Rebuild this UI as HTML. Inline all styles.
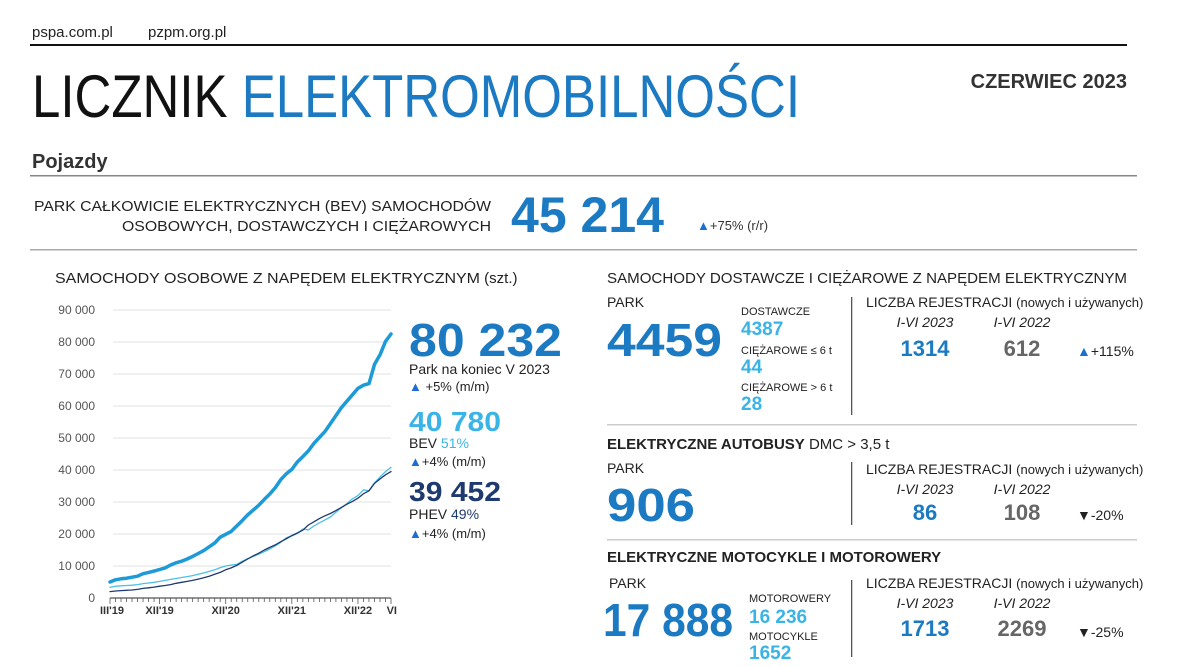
<!DOCTYPE html>
<html><head><meta charset="utf-8">
<style>
html,body{margin:0;padding:0;background:#fff;}
svg{display:block;font-family:"Liberation Sans","DejaVu Sans",sans-serif;}
</style></head>
<body>
<svg id="page" width="1184" height="667" viewBox="0 0 1184 667">
<g>
<text x="32" y="37" font-size="15" fill="#222">pspa.com.pl</text>
<text x="148" y="37" font-size="15" fill="#222">pzpm.org.pl</text>
<rect x="30" y="44" width="1097" height="2" fill="#111"/>
<text x="32" y="117" font-size="60" fill="#111" textLength="768" lengthAdjust="spacingAndGlyphs">LICZNIK <tspan fill="#1b7ac2">ELEKTROMOBILNOŚCI</tspan></text>
<text x="1127" y="88" font-size="20" font-weight="bold" fill="#333" text-anchor="end">CZERWIEC 2023</text>
<text x="32" y="168" font-size="20" font-weight="bold" fill="#333">Pojazdy</text>
<rect x="30" y="175" width="1107" height="1.5" fill="#888"/>
<text x="491" y="211" font-size="15" fill="#222" text-anchor="end" textLength="457" lengthAdjust="spacingAndGlyphs">PARK CAŁKOWICIE ELEKTRYCZNYCH (BEV) SAMOCHODÓW</text>
<text x="491" y="231" font-size="15" fill="#222" text-anchor="end" textLength="369" lengthAdjust="spacingAndGlyphs">OSOBOWYCH, DOSTAWCZYCH I CIĘŻAROWYCH</text>
<text x="511" y="232" font-size="50" font-weight="bold" fill="#1b7ac2" textLength="153" lengthAdjust="spacingAndGlyphs">45 214</text>
<text x="697" y="230" font-size="13" fill="#333"><tspan fill="#1b6fd0">▲</tspan>+75% (r/r)</text>
<rect x="30" y="249" width="1107" height="1.5" fill="#aaa"/>
</g>

<g>
<text x="55" y="283" font-size="15" fill="#222"><tspan textLength="425" lengthAdjust="spacingAndGlyphs">SAMOCHODY OSOBOWE Z NAPĘDEM ELEKTRYCZNYM</tspan><tspan> (szt.)</tspan></text>
<g id="chart"></g>
<text x="409" y="356" font-size="46" font-weight="bold" fill="#1b7ac2" textLength="153" lengthAdjust="spacingAndGlyphs">80 232</text>
<text x="409" y="374" font-size="14" fill="#222">Park na koniec V 2023</text>
<text x="409" y="391" font-size="13" fill="#222"><tspan fill="#1b6fd0">▲</tspan> +5% (m/m)</text>
<text x="409" y="431" font-size="28" font-weight="bold" fill="#3ab4e6" textLength="92" lengthAdjust="spacingAndGlyphs">40 780</text>
<text x="409" y="448" font-size="14" fill="#222">BEV <tspan fill="#3ab4e6">51%</tspan></text>
<text x="409" y="466" font-size="13" fill="#222"><tspan fill="#1b6fd0">▲</tspan>+4% (m/m)</text>
<text x="409" y="501" font-size="28" font-weight="bold" fill="#1f3a6e" textLength="92" lengthAdjust="spacingAndGlyphs">39 452</text>
<text x="409" y="519" font-size="14" fill="#222">PHEV <tspan fill="#1f3a6e">49%</tspan></text>
<text x="409" y="538" font-size="13" fill="#222"><tspan fill="#1b6fd0">▲</tspan>+4% (m/m)</text>
</g>

<g>
<text x="607" y="283" font-size="15" fill="#222" textLength="520" lengthAdjust="spacingAndGlyphs">SAMOCHODY DOSTAWCZE I CIĘŻAROWE Z NAPĘDEM ELEKTRYCZNYM</text>
<text x="607" y="307" font-size="14" fill="#222">PARK</text>
<text x="607" y="356" font-size="46" font-weight="bold" fill="#1b7ac2" textLength="115" lengthAdjust="spacingAndGlyphs">4459</text>
<text x="741" y="315" font-size="11" fill="#222">DOSTAWCZE</text>
<text x="741" y="335" font-size="19" font-weight="bold" fill="#3ab4e6">4387</text>
<text x="741" y="354" font-size="11" fill="#222">CIĘŻAROWE ≤ 6 t</text>
<text x="741" y="373" font-size="19" font-weight="bold" fill="#3ab4e6">44</text>
<text x="741" y="391" font-size="11" fill="#222">CIĘŻAROWE &gt; 6 t</text>
<text x="741" y="410" font-size="19" font-weight="bold" fill="#3ab4e6">28</text>
<rect x="851" y="297" width="1.3" height="118" fill="#555"/>
<text x="866" y="307" font-size="14" fill="#222">LICZBA REJESTRACJI <tspan font-size="13">(nowych i używanych)</tspan></text>
<text x="925" y="327" font-size="14" font-style="italic" fill="#222" text-anchor="middle">I-VI 2023</text>
<text x="1022" y="327" font-size="14" font-style="italic" fill="#222" text-anchor="middle">I-VI 2022</text>
<text x="925" y="356" font-size="22" font-weight="bold" fill="#1b7ac2" text-anchor="middle">1314</text>
<text x="1022" y="356" font-size="22" font-weight="bold" fill="#666" text-anchor="middle">612</text>
<text x="1077" y="356" font-size="14" fill="#222"><tspan fill="#1b6fd0">▲</tspan>+115%</text>
<rect x="607" y="424" width="530" height="1.5" fill="#ccc"/>
</g>

<g>
<text x="607" y="449" font-size="15" fill="#222"><tspan font-weight="bold">ELEKTRYCZNE AUTOBUSY</tspan> DMC &gt; 3,5 t</text>
<text x="607" y="473" font-size="14" fill="#222">PARK</text>
<text x="607" y="521" font-size="46" font-weight="bold" fill="#1b7ac2" textLength="88" lengthAdjust="spacingAndGlyphs">906</text>
<rect x="851" y="462" width="1.3" height="63" fill="#555"/>
<text x="866" y="474" font-size="14" fill="#222">LICZBA REJESTRACJI <tspan font-size="13">(nowych i używanych)</tspan></text>
<text x="925" y="494" font-size="14" font-style="italic" fill="#222" text-anchor="middle">I-VI 2023</text>
<text x="1022" y="494" font-size="14" font-style="italic" fill="#222" text-anchor="middle">I-VI 2022</text>
<text x="925" y="520" font-size="22" font-weight="bold" fill="#1b7ac2" text-anchor="middle">86</text>
<text x="1022" y="520" font-size="22" font-weight="bold" fill="#666" text-anchor="middle">108</text>
<text x="1077" y="520" font-size="14" fill="#222"><tspan fill="#222">▼</tspan>-20%</text>
<rect x="607" y="539" width="530" height="1.5" fill="#ccc"/>
</g>

<g>
<text x="607" y="562" font-size="15" font-weight="bold" fill="#222">ELEKTRYCZNE MOTOCYKLE I MOTOROWERY</text>
<text x="609" y="588" font-size="14" fill="#222">PARK</text>
<text x="603" y="636" font-size="46" font-weight="bold" fill="#1b7ac2" textLength="130" lengthAdjust="spacingAndGlyphs">17 888</text>
<text x="749" y="602" font-size="11" fill="#222">MOTOROWERY</text>
<text x="749" y="623" font-size="19" font-weight="bold" fill="#3ab4e6">16 236</text>
<text x="749" y="640" font-size="11" fill="#222">MOTOCYKLE</text>
<text x="749" y="659" font-size="19" font-weight="bold" fill="#3ab4e6">1652</text>
<rect x="851" y="580" width="1.3" height="77" fill="#555"/>
<text x="866" y="588" font-size="14" fill="#222">LICZBA REJESTRACJI <tspan font-size="13">(nowych i używanych)</tspan></text>
<text x="925" y="608" font-size="14" font-style="italic" fill="#222" text-anchor="middle">I-VI 2023</text>
<text x="1022" y="608" font-size="14" font-style="italic" fill="#222" text-anchor="middle">I-VI 2022</text>
<text x="925" y="636" font-size="22" font-weight="bold" fill="#1b7ac2" text-anchor="middle">1713</text>
<text x="1022" y="636" font-size="22" font-weight="bold" fill="#666" text-anchor="middle">2269</text>
<text x="1077" y="637" font-size="14" fill="#222">▼-25%</text>
</g>
</svg>
<script>
const totalPark = [5000,5700,6000,6200,6500,6800,7600,8000,8400,8900,9400,10300,11000,11500,12200,13000,13900,14800,16000,17200,19000,19900,20800,22500,24200,26000,27500,29000,30800,32500,34500,37000,38800,40200,42500,44200,46000,48300,50200,52000,54500,57000,59500,61500,63500,65500,66500,67000,73000,76000,80200,82500];
const bevPark = [3300,3700,3800,3900,4000,4200,4500,4700,4900,5200,5500,5800,6100,6400,6700,7000,7400,7800,8300,8800,9500,10000,10300,10500,11500,12300,13000,13700,14500,15300,16300,17400,18800,19400,20200,21500,21300,22500,23500,24400,25300,26800,28200,29500,31000,32000,33800,33500,36000,37800,39500,40800];
const phevPark = [2000,2200,2300,2400,2500,2700,3000,3200,3400,3700,3900,4200,4600,4900,5200,5500,5900,6300,6800,7400,8000,8800,9400,10200,11200,12200,13200,14000,15000,15800,16600,17600,18500,19500,20300,21200,22800,23800,24800,25700,26400,27300,28300,29300,30200,31200,32600,33500,35800,37200,38500,39500];
const yTicks = [0,10000,20000,30000,40000,50000,60000,70000,80000,90000];
const yTickLabels = ["0","10 000","20 000","30 000","40 000","50 000","60 000","70 000","80 000","90 000"];
const xLabelIdx = [0,9,21,33,45,51];
const xLabels = ["III'19","XII'19","XII'20","XII'21","XII'22","VI"];

const NS="http://www.w3.org/2000/svg";
const g=document.getElementById('chart');
const X0=110,X1=391,Y0=598,Y1=310,YMAX=90000;
const n=totalPark.length;
function xs(i){return X0+(X1-X0)*i/(n-1);}
function ys(v){return Y0-(Y0-Y1)*v/YMAX;}
function mk(tag,attrs){const e=document.createElementNS(NS,tag);for(const k in attrs)e.setAttribute(k,attrs[k]);g.appendChild(e);return e;}
yTicks.forEach((v,i)=>{
  if(v>0){const l=mk('line',{x1:X0+3,x2:X1,y1:ys(v),y2:ys(v),stroke:'#e8e8e8','stroke-width':1.3});
  
  }
  const t=mk('text',{x:95,y:ys(v)+4,'font-size':12,fill:'#555','text-anchor':'end'});
  t.textContent=yTickLabels[i];
  
  
});
const ax=mk('line',{x1:X0,x2:X1,y1:Y0,y2:Y0,stroke:'#555','stroke-width':1.2});


for(let i=0;i<n;i++){
  const tk=mk('line',{x1:xs(i),x2:xs(i),y1:Y0,y2:Y0+(xLabelIdx.includes(i)?6:4),stroke:'#555','stroke-width':0.8});
  
  
}
xLabelIdx.forEach((idx,i)=>{
  const anchor=i===0?'start':(i===xLabels.length-1?'end':'middle');
  const t=mk('text',{x:i===0?xs(idx)-10:(i===xLabels.length-1?xs(idx)+6:xs(idx)),y:Y0+16,'font-size':11,'font-weight':'bold',fill:'#333','text-anchor':anchor});
  t.textContent=xLabels[i];
  
  
});
function line(arr,color,w,name){
  const d=arr.map((v,i)=>(i?'L':'M')+xs(i).toFixed(1)+' '+ys(v).toFixed(1)).join(' ');
  const p=mk('path',{d:d,fill:'none',stroke:color,'stroke-width':w,'stroke-linejoin':'round','stroke-linecap':'round'});
  
  
}
line(bevPark,'#4cc0ea',1.3,'bev-line');
line(phevPark,'#1f3a6e',1.3,'phev-line');
line(totalPark,'#1d9ad8',3.5,'total-line');
</script>
</body></html>
